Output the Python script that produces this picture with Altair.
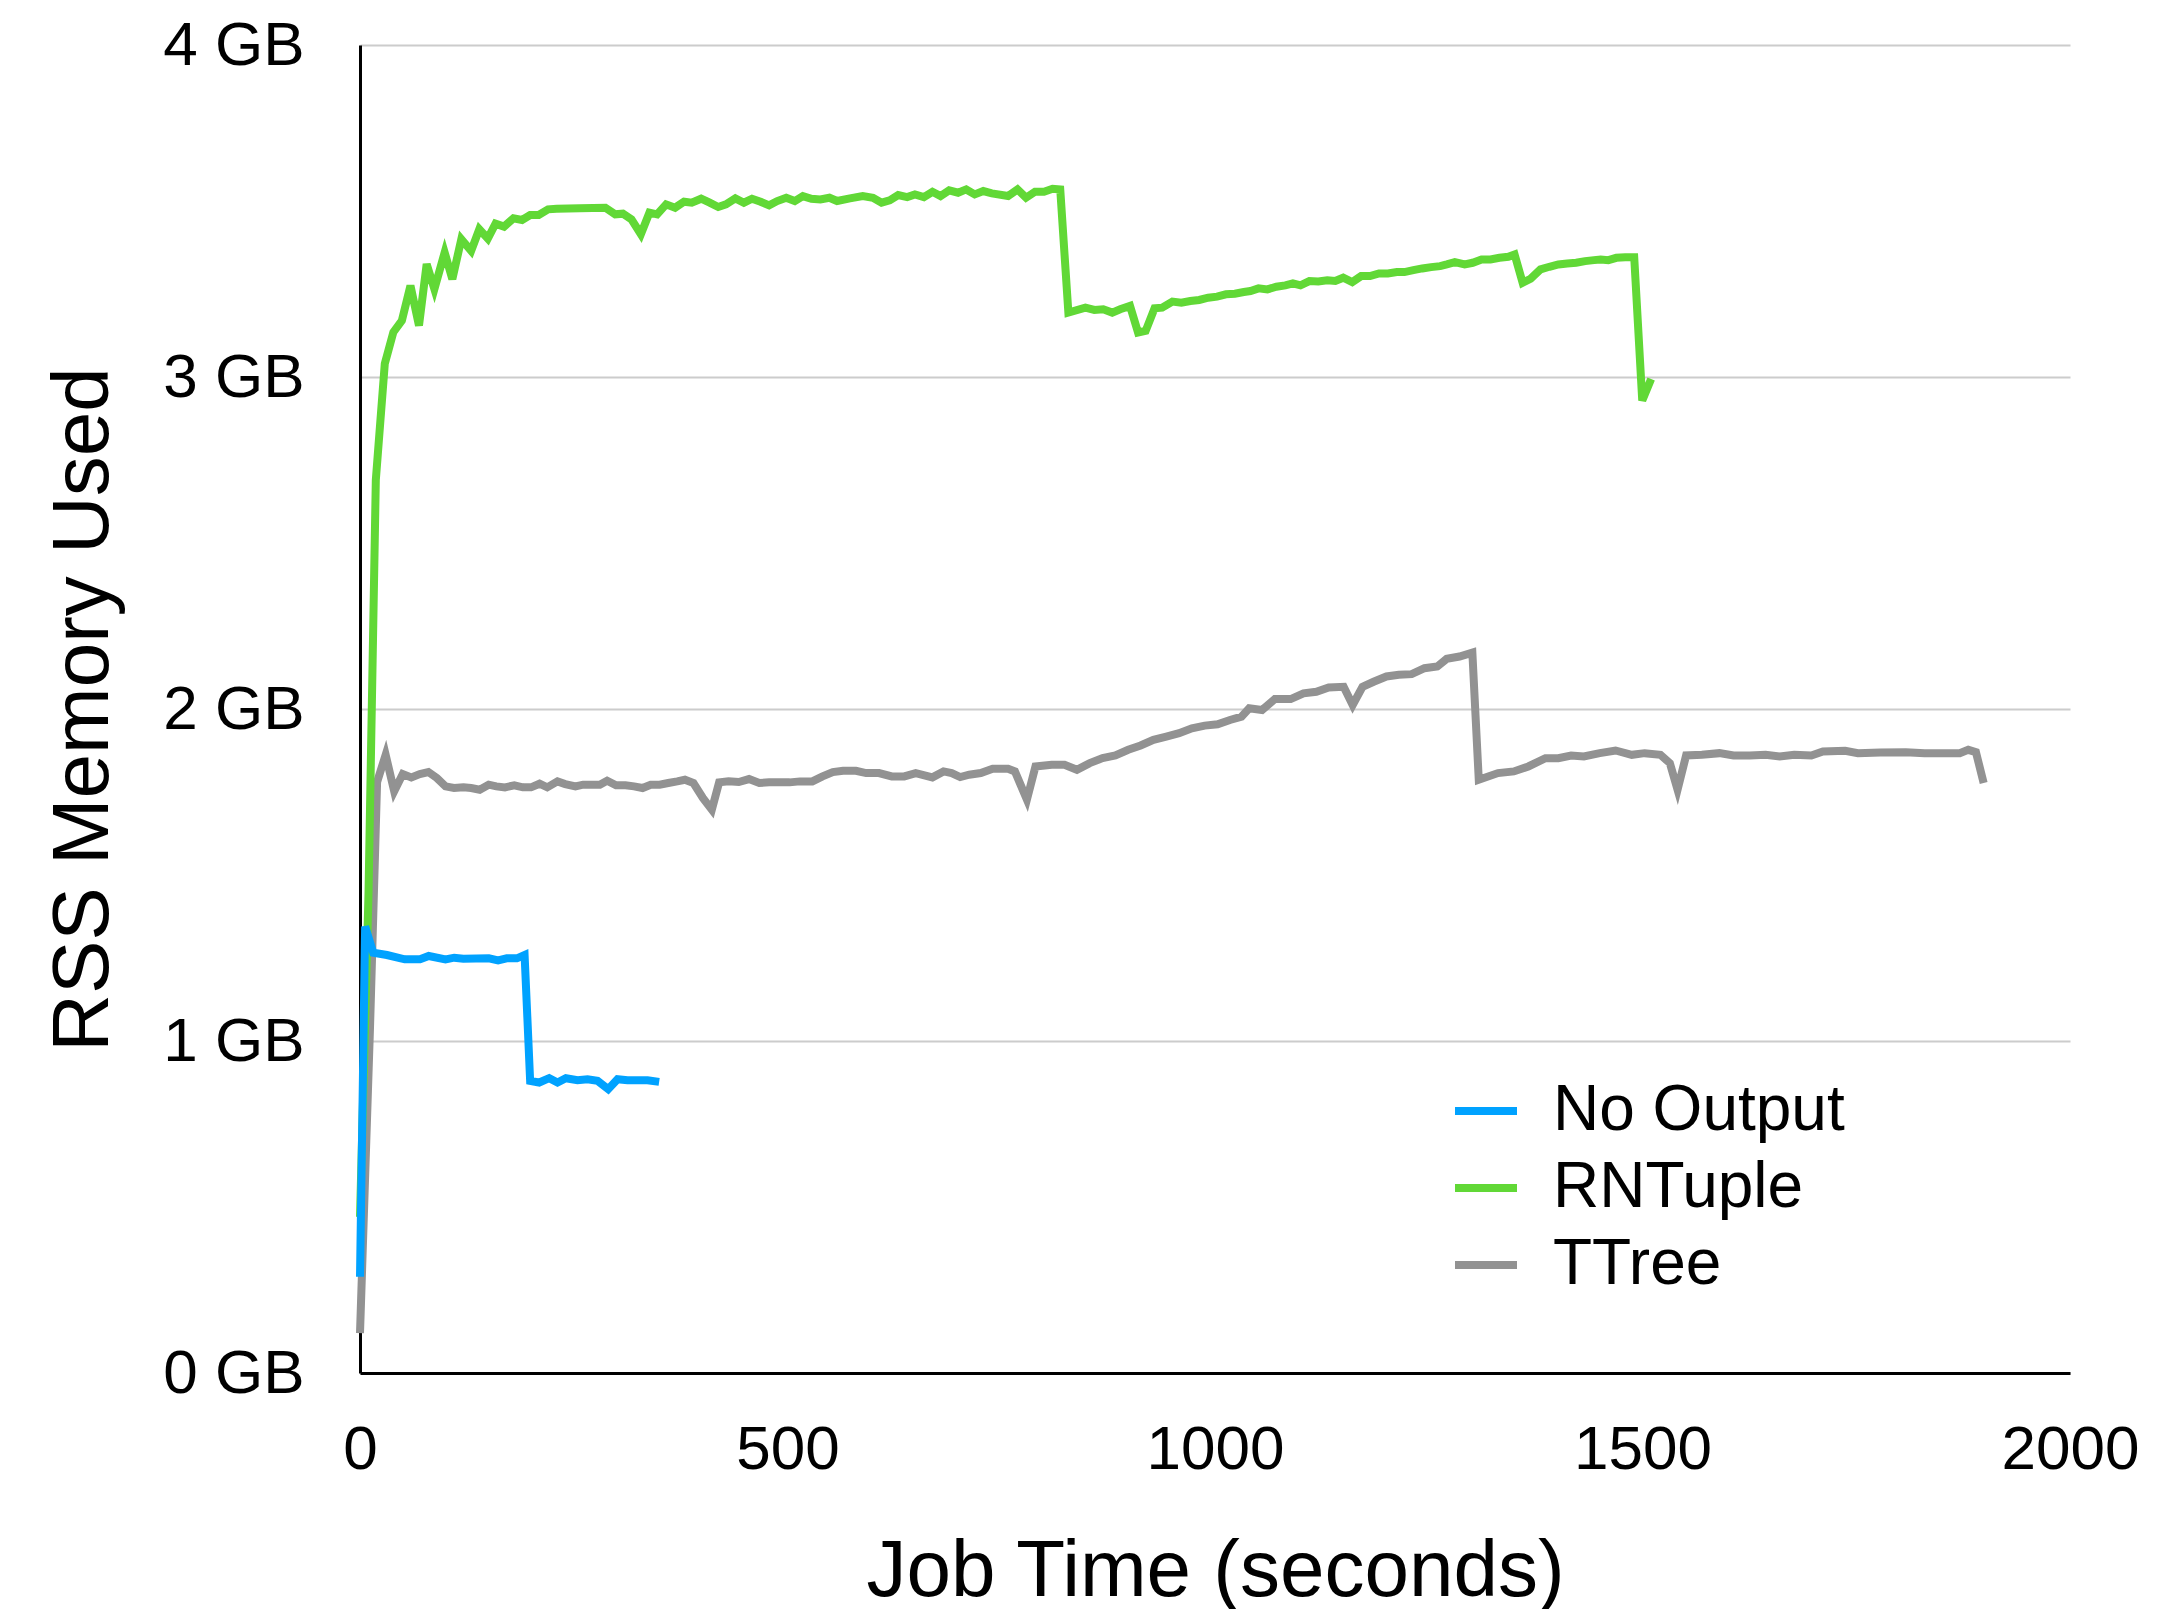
import altair as alt
import pandas as pd

# ---- data ----
no_output_t = [0, 6, 15.5, 31.5, 52.3, 70.2, 80.4, 100, 110.2, 120.9, 150.7, 161.5, 171.6, 183.5, 192.5,
               199, 209.6, 221.3, 231, 240.8, 254.4, 266.1, 277.8, 290.3, 301.2, 312.9, 324.6, 336.3, 349.9]
no_output_v = [0.29, 1.345, 1.266, 1.259, 1.246, 1.246, 1.256, 1.246, 1.251, 1.248, 1.249, 1.243, 1.249, 1.249, 1.259,
               0.88, 0.875, 0.888, 0.875, 0.888, 0.882, 0.885, 0.88, 0.855, 0.885, 0.882, 0.882, 0.882, 0.877]

rntuple_t = [0, 10, 18.5, 29, 39, 49, 59, 69, 78, 87, 99, 108, 118.5, 130, 139.5, 149.5, 158.5, 168.5, 179.5,
             189.5, 199, 209, 220, 230, 257, 287, 298.5, 307.5, 317.5, 328.5, 338.5, 347.5, 358, 368.5, 379,
             388, 399, 409, 419, 428, 439, 449, 458.5, 468.5, 478.5, 488, 498.5, 508.5, 518, 528, 538.5, 549,
             558, 573, 588, 600, 610, 619.5, 629.5, 640, 649, 659.5, 669.5, 679, 689, 699.5, 709, 719, 729,
             739, 758, 769, 779, 789.5, 800, 810, 819, 828.5, 848.4, 858.9, 869.3, 879.8, 889.1, 900.6, 910,
             918.9, 929.3, 938.2, 950.2, 960.6, 971.1, 981.5, 992, 1002.4, 1012.8, 1023.2, 1033.7, 1041.5,
             1050.9, 1061.3, 1071.8, 1082.2, 1091.1, 1100, 1110.4, 1120.8, 1131.3, 1140.7, 1150, 1160.5,
             1170.9, 1181.3, 1191.8, 1202.2, 1212.7, 1221.5, 1232, 1242.4, 1252.8, 1263.3, 1271.1, 1280.5,
             1292, 1301.4, 1311.8, 1322.2, 1332.7, 1343.1, 1350.4, 1359.8, 1369.2, 1380.7, 1391.1, 1401.6,
             1412, 1422.4, 1432.9, 1443.3, 1451.1, 1460, 1469.4, 1479.8, 1490.3, 1499.7, 1510.1]
rntuple_v = [0.47, 1.45, 2.69, 3.04, 3.135, 3.17, 3.275, 3.155, 3.34, 3.265, 3.375, 3.295, 3.415, 3.38, 3.445,
             3.417, 3.462, 3.453, 3.478, 3.473, 3.488, 3.488, 3.505, 3.507, 3.508, 3.51, 3.49, 3.492, 3.475,
             3.43, 3.495, 3.49, 3.52, 3.51, 3.528, 3.525, 3.537, 3.525, 3.512, 3.52, 3.538, 3.525, 3.537,
             3.528, 3.517, 3.53, 3.54, 3.53, 3.545, 3.537, 3.535, 3.54, 3.53, 3.538, 3.545, 3.54, 3.525,
             3.532, 3.548, 3.542, 3.55, 3.542, 3.558, 3.545, 3.562, 3.555, 3.565, 3.55, 3.56, 3.553, 3.545,
             3.565, 3.54, 3.558, 3.558, 3.567, 3.565, 3.194, 3.209, 3.202, 3.204, 3.194, 3.204, 3.214, 3.134,
             3.139, 3.207, 3.209, 3.227, 3.224, 3.229, 3.232, 3.239, 3.242, 3.249, 3.251, 3.256, 3.259, 3.267,
             3.264, 3.272, 3.276, 3.282, 3.276, 3.289, 3.288, 3.291, 3.289, 3.299, 3.286, 3.304, 3.304, 3.312,
             3.312, 3.316, 3.316, 3.322, 3.327, 3.331, 3.334, 3.339, 3.346, 3.339, 3.344, 3.354, 3.354, 3.359,
             3.362, 3.369, 3.284, 3.296, 3.324, 3.332, 3.339, 3.342, 3.344, 3.349, 3.352, 3.354, 3.352, 3.359,
             3.361, 3.361, 2.929, 2.994]

ttree_t = [0, 11.7, 20, 30, 40, 50, 60, 70, 80, 90, 100, 110, 121, 130, 140, 150.5, 159.5, 169.5, 180.5,
           190.5, 200, 210, 219, 231, 240, 252, 261, 271, 280.5, 289, 299.5, 310.5, 320.5, 330.5, 340, 350.5,
           360.5, 371, 380, 390, 401, 411.5, 420, 431, 443, 455, 467, 478.5, 490.5, 502.5, 514.5, 529, 541,
           553, 565, 580, 592, 607, 622, 636.5, 650, 669.5, 682.5, 692, 702, 712.5, 726, 740, 758, 766, 780,
           790, 809, 824, 838.5, 853.5, 868.5, 883.5, 898.5, 913, 928, 943, 958, 973, 988, 1003, 1017.5,
           1031, 1040, 1055, 1070, 1088.5, 1103.5, 1118.5, 1133, 1150.5, 1161, 1172.5, 1185.5, 1200.5, 1215,
           1230, 1245, 1260, 1271, 1286, 1301, 1308.5, 1331, 1349.5, 1366.5, 1386.5, 1401.5, 1416.5, 1431.5,
           1450, 1468.5, 1487.5, 1502.5, 1521, 1532, 1541, 1551, 1569.5, 1590, 1606.5, 1625.5, 1644, 1660.5,
           1677.5, 1697.5, 1711, 1737, 1752, 1778, 1808, 1830, 1852.5, 1871, 1881, 1890, 1899]
ttree_v = [0.12, 1.04, 1.78, 1.862, 1.752, 1.804, 1.794, 1.804, 1.81, 1.792, 1.767, 1.762, 1.764, 1.762, 1.757,
           1.772, 1.767, 1.764, 1.77, 1.764, 1.764, 1.775, 1.764, 1.782, 1.774, 1.767, 1.772, 1.772, 1.772,
           1.784, 1.77, 1.77, 1.767, 1.762, 1.772, 1.772, 1.777, 1.782, 1.787, 1.777, 1.732, 1.697, 1.779,
           1.782, 1.78, 1.789, 1.777, 1.779, 1.779, 1.779, 1.782, 1.782, 1.797, 1.81, 1.814, 1.814, 1.807,
           1.807, 1.797, 1.797, 1.807, 1.794, 1.812, 1.807, 1.795, 1.802, 1.807, 1.82, 1.82, 1.812, 1.727,
           1.827, 1.832, 1.832, 1.817, 1.837, 1.852, 1.86, 1.877, 1.89, 1.907, 1.917, 1.927, 1.942, 1.95,
           1.954, 1.967, 1.977, 2.002, 1.997, 2.03, 2.03, 2.047, 2.052, 2.065, 2.067, 2.012, 2.067, 2.082,
           2.098, 2.103, 2.105, 2.123, 2.128, 2.151, 2.158, 2.17, 1.787, 1.807, 1.812, 1.827, 1.852, 1.852,
           1.86, 1.857, 1.867, 1.875, 1.862, 1.867, 1.862, 1.837, 1.757, 1.86, 1.862, 1.867, 1.86, 1.86,
           1.862, 1.857, 1.862, 1.86, 1.872, 1.874, 1.867, 1.869, 1.87, 1.867, 1.867, 1.867, 1.877, 1.87, 1.777]

series_names = ["No Output", "RNTuple", "TTree"]
series_colors = ["#00A2FF", "#61D836", "#929292"]
x_ticks = [0, 500, 1000, 1500, 2000]
y_ticks = [0, 1, 2, 3, 4]

def frame(name, t, v):
    return pd.DataFrame({"t": t, "v": v, "series": name, "order": range(len(t))})

df = pd.concat([
    frame("No Output", no_output_t, no_output_v),
    frame("RNTuple", rntuple_t, rntuple_v),
    frame("TTree", ttree_t, ttree_v),
], ignore_index=True)

FONT = "Liberation Sans"
PLOT_H = 1328

x_enc = alt.X("t:Q", scale=alt.Scale(domain=[0, 2000], nice=False),
              axis=alt.Axis(values=x_ticks, format="d", title="Job Time (seconds)", grid=False,
                            ticks=False, labelPadding=46, labelFontSize=62, labelFont=FONT,
                            labelColor="black", domainColor="black", domainWidth=3,
                            titleFontSize=80, titleFont=FONT, titleFontWeight="normal",
                            titleColor="black", titleBaseline="alphabetic", titleY=222,
                            labelFlush=False))
y_enc = alt.Y("v:Q", scale=alt.Scale(domain=[0, 4], nice=False),
              axis=alt.Axis(values=y_ticks, labelExpr="datum.value + ' GB'", title="RSS Memory Used",
                            grid=True, gridColor="#cccccc", gridWidth=2, ticks=False,
                            labelPadding=56, labelFontSize=62, labelFont=FONT, labelColor="black",
                            domainColor="black", domainWidth=3, titleFontSize=80, titleFont=FONT,
                            titleFontWeight="normal", titleColor="black", titleAngle=-90,
                            titleBaseline="alphabetic", titleAlign="center", titleX=-253,
                            titleY=PLOT_H / 2))
color_enc = alt.Color("series:N",
                      scale=alt.Scale(domain=series_names, range=series_colors),
                      legend=alt.Legend(orient="none", legendX=1091, legendY=1031, title=None,
                                        symbolType="stroke", symbolSize=3844, symbolStrokeWidth=8,
                                        labelFontSize=64, labelFont=FONT, labelColor="black",
                                        labelOffset=32, labelLimit=0, rowPadding=10, padding=0))

def layer(name):
    return alt.Chart(df).transform_filter(alt.datum.series == name).mark_line(strokeWidth=8).encode(
        x=x_enc, y=y_enc, color=color_enc, order="order:Q")

chart = alt.layer(layer("TTree"), layer("RNTuple"), layer("No Output")).properties(
    width=1710, height=PLOT_H,
    autosize=alt.AutoSizeParams(type="none"),
    padding={"left": 352, "top": 37, "right": 100, "bottom": 240},
).configure_view(strokeWidth=0)

chart.save("out.html", embed_options={"renderer": "svg", "actions": False})
